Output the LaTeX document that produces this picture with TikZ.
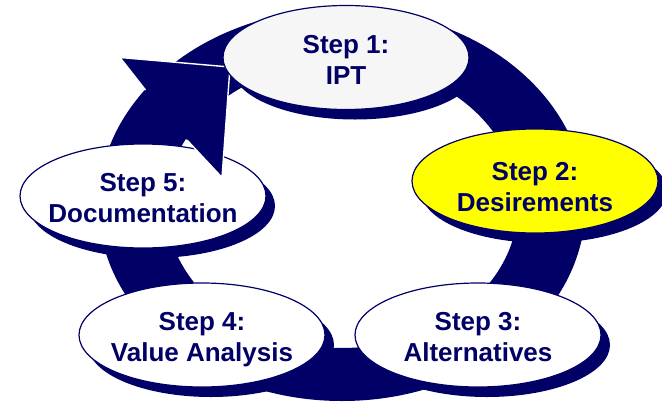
\documentclass[tikz,border=0pt]{standalone}
\usepackage{fontspec}
\setsansfont{Liberation Sans}
\usetikzlibrary{shapes.geometric,shadows}
\definecolor{navy}{RGB}{0,0,102}
\definecolor{paleGray}{RGB}{246,246,246}
\definecolor{brightYellow}{RGB}{255,255,0}
\begin{document}
\begin{tikzpicture}[x=1pt,y=-1pt,
  stepshape/.style={ellipse, draw=navy, line width=1.2pt, minimum width=246pt,
    minimum height=104pt, inner sep=0pt,
    drop shadow={shadow xshift=9pt, shadow yshift=-10pt, fill=navy, opacity=1}},
  steptext/.style={align=center, text=navy, inner sep=0pt, text depth=0pt,
    font=\sffamily\bfseries\fontsize{26}{31}\selectfont},
  headoutline/.style={white, line width=1.4pt, line join=miter}]
\useasboundingbox (0,0) rectangle (662,402);
% ring body
\fill[navy, even odd rule] (342,205) ellipse [x radius=243.5pt, y radius=196pt]
                           (342,205) ellipse [x radius=176pt, y radius=143pt];
% step 5
\node[stepshape, fill=white] (s5) at (143,196) {};
\node[steptext] (t5) at ([yshift=-2pt]s5.center) {Step 5:\\Documentation};
% step 4
\node[stepshape, fill=white] (s4) at (202,335) {};
\node[steptext] (t4) at ([yshift=-2pt]s4.center) {Step 4:\\Value Analysis};
% step 3
\node[stepshape, fill=white] (s3) at (478,335) {};
\node[steptext] (t3) at ([yshift=-2pt]s3.center) {Step 3:\\Alternatives};
% step 2
\node[stepshape, fill=brightYellow] (s2) at (535,181) {};
\node[steptext] (t2) at ([yshift=-6pt]s2.center) {Step 2:\\Desirements};
% arrow head
\coordinate (hl) at (145.5,90);
\coordinate (hb1) at (120,57.5);
\coordinate (htip) at (230,67);
\coordinate (hb2) at (222,177.5);
\coordinate (hr) at (187,140);
\fill[navy] (hl) -- (hb1) -- (htip) -- (hb2) -- (hr) -- cycle;
\draw[headoutline] (hl) -- (hb1) -- (htip) -- (hb2) -- (hr);
% step 1
\node[stepshape, fill=paleGray] (s1) at (346,57.5) {};
\node[steptext] (t1) at ([yshift=-2pt]s1.center) {Step 1:\\IPT};
\end{tikzpicture}
\end{document}
